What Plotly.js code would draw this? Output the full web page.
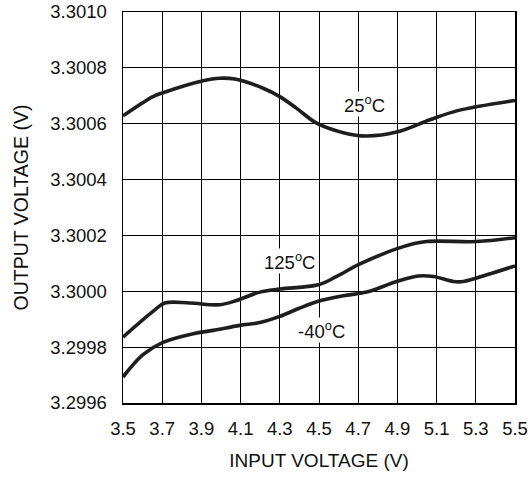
<!DOCTYPE html>
<html>
<head>
<meta charset="utf-8">
<script src="https://cdn.plot.ly/plotly-3.0.1.min.js"></script>
<style>html,body{margin:0;padding:0;background:#fff;}#chart{width:530px;height:478px;}</style>
</head>
<body>
<div id="chart"></div>
<script>
// 25°C
const x25 = [3.5, 3.653, 3.704, 3.909, 3.994, 4.07, 4.215, 4.30, 4.386, 4.488, 4.624, 4.743, 4.896, 5.066, 5.203, 5.5];
const y25 = [3.300628, 3.300697, 3.300711, 3.300754, 3.300763, 3.300760, 3.300727, 3.300697, 3.300655, 3.300602, 3.300568, 3.300556, 3.300570, 3.300614, 3.300646, 3.300683];
// 125°C
const x125 = [3.5, 3.653, 3.713, 3.841, 3.994, 4.079, 4.198, 4.30, 4.496, 4.590, 4.709, 4.930, 5.049, 5.305, 5.5];
const y125 = [3.299836, 3.299928, 3.299958, 3.299958, 3.299952, 3.299967, 3.299997, 3.300008, 3.300023, 3.300053, 3.300098, 3.300160, 3.300178, 3.300178, 3.300192];
// -40°C
const xm40 = [3.5, 3.602, 3.704, 3.858, 3.960, 4.096, 4.198, 4.30, 4.402, 4.496, 4.624, 4.743, 4.896, 5.007, 5.084, 5.186, 5.237, 5.356, 5.5];
const ym40 = [3.299693, 3.299773, 3.299817, 3.299848, 3.299860, 3.299878, 3.299888, 3.299910, 3.299940, 3.299964, 3.299984, 3.299997, 3.300035, 3.300055, 3.300053, 3.300035, 3.300035, 3.300059, 3.300091];

const xTicks = [3.5, 3.7, 3.9, 4.1, 4.3, 4.5, 4.7, 4.9, 5.1, 5.3, 5.5];
const xTickText = ["3.5","3.7","3.9","4.1","4.3","4.5","4.7","4.9","5.1","5.3","5.5"];
const yTicks = [3.2996, 3.2998, 3.3000, 3.3002, 3.3004, 3.3006, 3.3008, 3.3010];
const yTickText = ["3.2996","3.2998","3.3000","3.3002","3.3004","3.3006","3.3008","3.3010"];

const labelText = ["25<sup>o</sup>C", "125<sup>o</sup>C", "-40<sup>o</sup>C"];
const labelX = [4.73, 4.35, 4.513];
const labelY = [3.30067, 3.300107, 3.299862];

const FONT = "Arial, 'Liberation Sans', sans-serif";
const lineStyle = {color: '#1e1e1e', width: 3.6, shape: 'spline', smoothing: 1};

const traces = [
  {x: x25, y: y25, mode: 'lines', line: lineStyle, hoverinfo: 'skip'},
  {x: x125, y: y125, mode: 'lines', line: lineStyle, hoverinfo: 'skip'},
  {x: xm40, y: ym40, mode: 'lines', line: lineStyle, hoverinfo: 'skip'}
];

const annotations = labelText.map((t, i) => ({
  x: labelX[i], y: labelY[i], xref: 'x', yref: 'y', text: t, showarrow: false,
  font: {family: FONT, size: 18.5, color: '#111'}, bgcolor: '#fff', borderpad: 0
}));

const layout = {
  width: 530, height: 478,
  margin: {l: 123, r: 15, t: 12, b: 75},
  paper_bgcolor: '#fff', plot_bgcolor: '#fff',
  showlegend: false,
  font: {family: FONT, size: 18.5, color: '#111'},
  xaxis: {
    range: [3.5, 5.5], tickvals: xTicks, ticktext: xTickText,
    showgrid: true, gridcolor: '#000', gridwidth: 1, zeroline: false,
    showline: true, linecolor: '#000', linewidth: 1.5, mirror: true,
    ticks: '', ticklabelstandoff: 8,
    tickfont: {family: FONT, size: 18.5, color: '#111'},
    title: {text: 'INPUT VOLTAGE (V)', font: {family: FONT, size: 19, color: '#111'}, standoff: 16}
  },
  yaxis: {
    range: [3.2996, 3.3010], tickvals: yTicks, ticktext: yTickText,
    showgrid: true, gridcolor: '#000', gridwidth: 1, zeroline: false,
    showline: true, linecolor: '#000', linewidth: 1.5, mirror: true,
    ticks: '', ticklabelstandoff: 11,
    tickfont: {family: FONT, size: 18.5, color: '#111'},
    title: {text: 'OUTPUT VOLTAGE (V)', font: {family: FONT, size: 19.5, color: '#111'}, standoff: 16}
  },
  annotations: annotations
};

Plotly.newPlot('chart', traces, layout, {displayModeBar: false, staticPlot: true});
</script>
</body>
</html>
